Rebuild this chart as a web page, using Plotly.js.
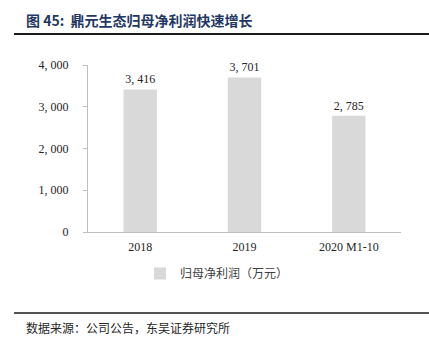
<!DOCTYPE html>
<html><head><meta charset="utf-8">
<script src="https://cdn.plot.ly/plotly-3.0.1.min.js"></script>
<style>html,body{margin:0;padding:0;background:#fff;}#chart{width:429px;height:354px;}</style>
</head><body><div id="chart"></div>
<script>
const categories = ["2018", "2019", "2020 M1-10"];
const profitValues = [3416, 3701, 2785];
const seriesName = "归母净利润（万元）";
const yTickVals = [0, 1000, 2000, 3000, 4000];
const yTickText = ["0", "1, 000", "2, 000", "3, 000", "4, 000"];

function fmt(v){ const s = String(v); return s.length > 3 ? s.slice(0, s.length-3) + ", " + s.slice(-3) : s; }

const W = 429, H = 354, L = 88, R = 28, T = 65, B = 122;
const pw = W - L - R, ph = H - T - B;
const px = x => (x - L) / pw;
const py = y => (H - B - y) / ph;

const serif = "Liberation Serif, Times New Roman, serif";
const cjk = "Noto Sans CJK SC, sans-serif";

const trace = {
  type: "bar", x: categories, y: profitValues, name: seriesName,
  marker: {color: "#d9d9d9"},
  text: profitValues.map(fmt), textposition: "outside", cliponaxis: false,
  textfont: {family: serif, size: 12, color: "#262626"},
  showlegend: true
};

const layout = {
  width: W, height: H,
  margin: {l: L, r: R, t: T, b: B},
  paper_bgcolor: "#fff", plot_bgcolor: "#fff",
  bargap: 0.68,
  font: {family: serif, size: 12, color: "#262626"},
  xaxis: {type: "category", showgrid: false, showline: true, linecolor: "#bfbfbf", linewidth: 1, ticks: "",
          ticklabelstandoff: 4,
          tickfont: {family: serif, size: 12, color: "#262626"}, fixedrange: true},
  yaxis: {range: [0, 4000], showgrid: false, showline: true, linecolor: "#bfbfbf", linewidth: 1,
          ticks: "outside", ticklen: 4, tickcolor: "#bfbfbf", tickvals: yTickVals, ticktext: yTickText,
          ticklabelstandoff: 12,
          tickfont: {family: serif, size: 12, color: "#262626"}, zeroline: false, fixedrange: true},
  showlegend: true,
  legend: {orientation: "h", x: px(140), y: py(259), xanchor: "left", yanchor: "top",
           font: {family: cjk, size: 12, color: "#404040"}, itemwidth: 30},
  shapes: [
    {type: "line", xref: "paper", yref: "paper", x0: px(14), x1: px(429), y0: py(34), y1: py(34), line: {color: "#1a1a1a", width: 2}},
    {type: "line", xref: "paper", yref: "paper", x0: px(14), x1: px(429), y0: py(313), y1: py(313), line: {color: "#1a1a1a", width: 1.5}}
  ],
  annotations: [
    {xref: "paper", yref: "paper", x: px(24), y: py(20), xanchor: "left", yanchor: "middle", showarrow: false,
     text: "<b>图 45:  鼎元生态归母净利润快速增长</b>", font: {family: cjk, size: 14, color: "#1f3864"}},
    {xref: "paper", yref: "paper", x: px(24), y: py(327), xanchor: "left", yanchor: "middle", showarrow: false,
     text: "数据来源：公司公告，东吴证券研究所", font: {family: cjk, size: 12, color: "#262626"}}
  ]
};

Plotly.newPlot("chart", [trace], layout, {displayModeBar: false, staticPlot: true});
</script></body></html>
